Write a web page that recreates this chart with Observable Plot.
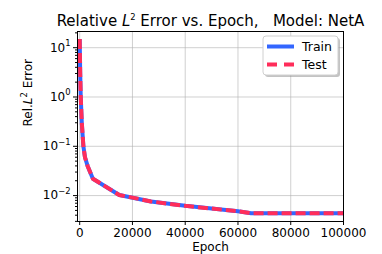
<!DOCTYPE html>
<html><head><meta charset="utf-8">
<script src="https://cdn.jsdelivr.net/npm/d3@7"></script>
<script src="https://cdn.jsdelivr.net/npm/@observablehq/plot@0.6"></script>
<style>
body{margin:0;background:#fff}
#chart{position:relative;width:382px;height:254px;overflow:hidden}
</style>
</head><body><div id="chart"></div>
<script>
const epochs   = [0, 200, 400, 800, 1400, 2000, 3000, 5000, 15000, 27000, 40000, 60000, 65000, 80000, 100000];
const trainErr = [15, 3, 1, 0.3, 0.1, 0.06, 0.04, 0.022, 0.0103, 0.0076, 0.0062, 0.0048, 0.0044, 0.0044, 0.0044];
const testErr  = [15, 3, 1, 0.3, 0.1, 0.06, 0.04, 0.022, 0.0103, 0.0076, 0.0062, 0.0048, 0.0044, 0.0044, 0.0044];
const xTicks = [0, 20000, 40000, 60000, 80000, 100000];
const yTicks = [0.01, 0.1, 1, 10];
const yTickLabels = ["10⁻²", "10⁻¹", "10⁰", "10¹"];
const yMinorTicks = [0.003,0.004,0.005,0.006,0.007,0.008,0.009,
  0.02,0.03,0.04,0.05,0.06,0.07,0.08,0.09,
  0.2,0.3,0.4,0.5,0.6,0.7,0.8,0.9,
  2,3,4,5,6,7,8,9,20];
const seriesNames = ["Train", "Test"];
const colors = ["#3366ff", "#ff2d5a"];
const titleText = "Relative L² Error vs. Epoch,   Model: NetA";
const xLabel = "Epoch";
const yLabel = "Rel.L² Error";

const train = epochs.map((e, i) => ({epoch: e, err: trainErr[i]}));
const test = epochs.map((e, i) => ({epoch: e, err: testErr[i]}));

const plot = Plot.plot({
  width: 382, height: 254,
  marginTop: 31, marginBottom: 33, marginLeft: 77, marginRight: 39,
  style: {fontFamily: "DejaVu Sans", fontSize: "12px", color: "black", background: "white"},
  x: {domain: [-830, 100000]},
  y: {type: "log", domain: [0.00298, 21.3]},
  marks: [
    Plot.gridX(xTicks, {stroke: "#b0b0b0", strokeOpacity: 0.6}),
    Plot.gridY(yTicks, {stroke: "#b0b0b0", strokeOpacity: 0.6}),
    Plot.axisX(xTicks, {tickSize: 4, tickPadding: 3, tickFormat: d => String(d), label: null, fontSize: 12}),
    Plot.axisY(yTicks, {tickSize: 4, tickPadding: 3, tickFormat: (d) => yTickLabels[yTicks.indexOf(d)], label: null, fontSize: 12}),
    Plot.axisY(yMinorTicks, {tickSize: 2, tickFormat: () => "", label: null}),
    Plot.line(train, {x: "epoch", y: "err", stroke: colors[0], strokeWidth: 4, strokeLinecap: "butt"}),
    Plot.line(test, {x: "epoch", y: "err", stroke: colors[1], strokeWidth: 4, strokeDasharray: "10,4", strokeLinecap: "butt"}),
    Plot.frame({stroke: "black", strokeWidth: 1}),
    Plot.text([titleText], {frameAnchor: "top", dy: -6, fontSize: 15, lineAnchor: "bottom"}),
    Plot.text([xLabel], {frameAnchor: "bottom", dy: 25.5, fontSize: 12, lineAnchor: "middle"}),
    Plot.text([yLabel], {frameAnchor: "left", dx: -49, rotate: -90, fontSize: 12, lineAnchor: "middle"})
  ]
});

const svg = d3.select(plot);
const supMap = {"⁻": "−", "⁰": "0", "¹": "1", "²": "2"};
svg.selectAll("text").each(function() {
  const t = this.textContent;
  const fs = parseFloat(getComputedStyle(this).fontSize) || 12;
  if (t.includes("L²")) {
    const [a, b] = t.split("L²");
    const el = d3.select(this).style("white-space", "pre").text(null);
    el.append("tspan").text(a);
    el.append("tspan").attr("font-style", "italic").text("L");
    el.append("tspan").attr("font-size", (fs * 0.7) + "px").attr("dy", -fs * 0.42).text("2");
    el.append("tspan").attr("dy", fs * 0.42).text(b);
  } else if (yTickLabels.includes(t)) {
    const sup = Array.from(t.slice(2)).map(c => supMap[c]).join("");
    const el = d3.select(this).text(null);
    el.append("tspan").text("10");
    el.append("tspan").attr("font-size", (fs * 0.7) + "px").attr("dy", -fs * 0.45).text(sup);
  }
});

// legend
const lg = svg.append("g").attr("font-family", "DejaVu Sans").attr("font-size", 12.5).attr("text-anchor", "start");
lg.append("rect").attr("x", 265).attr("y", 38).attr("width", 75).attr("height", 39).attr("rx", 3)
  .attr("fill", "#888").attr("opacity", 0.5);
lg.append("rect").attr("x", 263).attr("y", 36).attr("width", 75).attr("height", 39).attr("rx", 3)
  .attr("fill", "white").attr("stroke", "#d0d0d0");
seriesNames.forEach((name, i) => {
  const y = 46.5 + i * 18;
  lg.append("line").attr("x1", 267).attr("x2", 294).attr("y1", y).attr("y2", y)
    .attr("stroke", colors[i]).attr("stroke-width", 4)
    .attr("stroke-dasharray", i === 1 ? "10,7" : null);
  lg.append("text").attr("x", 302).attr("y", y).attr("dy", "0.35em").text(name);
});

document.getElementById("chart").appendChild(plot);
</script>
</body></html>
